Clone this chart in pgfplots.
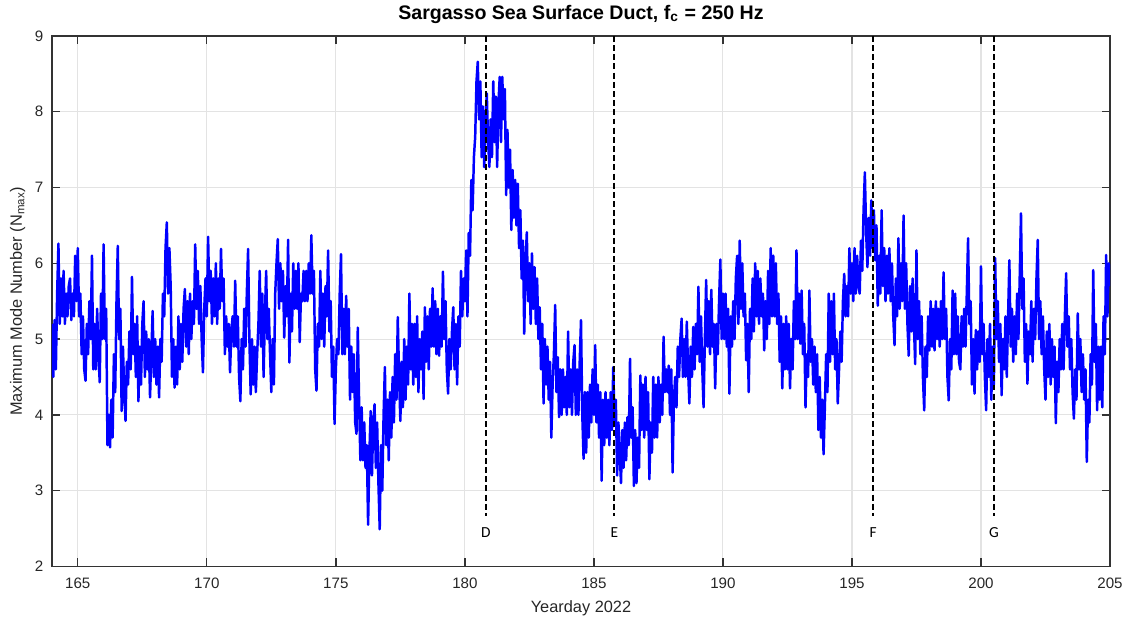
\documentclass[border=0pt]{standalone}
\usepackage{pgfplots}
\usepackage{pgfplotstable}
\pgfplotsset{compat=1.18}
\usepackage{fontspec}
\setmainfont{Liberation Sans}
\newfontfamily\carlito{Carlito}
\pgfplotstableread{
x y
164.00 5.2
164.05 4.5
164.10 5.25
164.15 4.6
164.20 5.6
164.25 6.26
164.30 5.2
164.35 5.8
164.40 5.3
164.45 5.9
164.50 5.2
164.55 5.6
164.60 5.3
164.65 5.7
164.70 5.8
164.75 5.25
164.80 5.6
164.85 5.3
164.90 6.1
164.95 5.5
165.00 6.2
165.05 5.3
165.10 5.6
165.15 4.8
165.20 5.3
165.25 4.6
165.30 4.45
165.35 5.2
165.40 4.8
165.45 5.5
165.50 5.0
165.55 6.1
165.60 4.6
165.65 5.2
165.70 4.6
165.75 5.4
165.80 4.8
165.85 4.43
165.90 5.6
165.95 5.0
166.00 6.25
166.05 5.0
166.10 5.4
166.15 3.6
166.20 4.0
166.25 3.57
166.30 4.2
166.35 3.7
166.40 4.8
166.45 4.3
166.50 5.5
166.55 6.23
166.60 5.0
166.65 5.4
166.70 4.05
166.75 4.9
166.80 4.3
166.85 3.92
166.90 4.7
166.95 4.4
167.00 5.1
167.05 4.6
167.10 5.82
167.15 4.8
167.20 5.2
167.25 4.5
167.30 5.3
167.35 4.18
167.40 4.9
167.45 4.4
167.50 5.2
167.55 5.5
167.60 4.5
167.65 5.1
167.70 4.6
167.75 5.0
167.80 4.23
167.85 4.8
167.90 5.37
167.95 4.5
168.00 5.0
168.05 4.4
168.10 4.9
168.15 4.23
168.20 5.0
168.25 4.7
168.30 5.6
168.35 5.3
168.40 6.2
168.45 6.54
168.50 5.6
168.55 6.2
168.60 5.7
168.65 4.5
168.70 5.0
168.75 4.36
168.80 4.9
168.85 4.4
168.90 5.3
168.95 4.6
169.00 5.2
169.05 4.7
169.10 5.4
169.15 5.66
169.20 4.9
169.25 5.5
169.30 4.8
169.35 5.6
169.40 5.0
169.45 5.5
169.50 5.2
169.55 6.25
169.60 5.4
169.65 5.9
169.70 5.2
169.75 5.7
169.80 5.0
169.85 4.56
169.90 5.4
169.95 5.8
170.00 5.3
170.05 6.35
170.10 5.5
170.15 5.9
170.20 5.2
170.25 5.8
170.30 5.3
170.35 6.0
170.40 5.2
170.45 5.8
170.50 5.4
170.55 6.19
170.60 5.5
170.65 5.8
170.70 4.8
170.75 5.3
170.80 4.9
170.85 5.2
170.90 4.56
170.95 5.1
171.00 5.3
171.05 4.9
171.10 5.77
171.15 4.9
171.20 5.3
171.25 4.5
171.30 4.18
171.35 5.0
171.40 4.6
171.45 5.4
171.50 4.9
171.55 5.6
171.60 6.19
171.65 5.0
171.70 4.27
171.75 5.0
171.80 4.4
171.85 4.9
171.90 4.3
171.95 4.8
172.00 5.2
172.05 5.9
172.10 4.9
172.15 5.6
172.20 4.5
172.25 5.3
172.30 5.9
172.35 5.0
172.40 5.4
172.45 4.8
172.50 4.3
172.55 5.0
172.60 4.4
172.65 5.6
172.70 6.0
172.75 6.32
172.80 5.4
172.85 6.0
172.90 5.5
172.95 5.9
173.00 5.02
173.05 5.7
173.10 5.3
173.15 6.31
173.20 4.69
173.25 5.6
173.30 5.1
173.35 6.0
173.40 5.4
173.45 5.9
173.50 5.4
173.55 6.0
173.60 4.96
173.65 5.6
173.70 5.5
173.75 5.9
173.80 5.5
173.85 5.9
173.90 5.5
173.95 6.0
174.00 5.6
174.05 6.37
174.10 5.6
174.15 5.9
174.20 4.6
174.25 4.32
174.30 5.2
174.35 4.9
174.40 5.9
174.45 5.0
174.50 5.6
174.55 4.9
174.60 5.7
174.65 5.3
174.70 6.17
174.75 5.1
174.80 5.5
174.85 4.5
174.90 4.9
174.95 3.88
175.00 4.6
175.05 5.0
175.10 4.8
175.15 5.6
175.20 6.12
175.25 4.8
175.30 5.4
175.35 4.8
175.40 5.57
175.45 4.9
175.50 5.4
175.55 4.2
175.60 4.9
175.65 4.3
175.70 4.8
175.75 3.9
175.80 3.75
175.85 5.15
175.90 4.2
175.95 3.4
176.00 4.1
176.05 3.4
176.10 3.9
176.15 3.3
176.20 3.6
176.25 2.55
176.30 3.5
176.35 4.05
176.40 3.2
176.45 3.9
176.50 4.14
176.55 3.3
176.60 3.9
176.65 3.1
176.70 2.49
176.75 3.6
176.80 3.0
176.85 4.0
176.90 4.63
176.95 3.6
177.00 4.2
177.05 3.4
177.10 4.3
177.15 3.7
177.20 4.5
177.25 3.9
177.30 4.8
177.35 4.2
177.40 5.29
177.45 4.5
177.50 3.92
177.55 4.7
177.60 4.1
177.65 5.0
177.70 4.2
177.75 4.9
177.80 4.4
177.85 5.6
177.90 4.6
177.95 5.2
178.00 4.4
178.05 5.2
178.10 4.5
178.15 5.3
178.20 4.3
178.25 5.0
178.30 4.6
178.35 5.1
178.40 4.21
178.45 5.42
178.50 4.7
178.55 5.3
178.60 4.6
178.65 5.4
178.70 4.9
178.75 5.67
178.80 4.9
178.85 5.5
178.90 4.8
178.95 5.4
179.00 4.78
179.05 5.3
179.10 4.9
179.15 5.89
179.20 5.0
179.25 5.5
179.30 4.6
179.35 4.28
179.40 5.0
179.45 4.6
179.50 5.1
179.55 5.42
179.60 4.6
179.65 5.2
179.70 4.4
179.75 5.3
179.80 4.9
179.85 5.9
179.90 5.3
179.95 5.8
180.00 5.5
180.05 6.17
180.10 5.3
180.15 6.4
180.20 6.1
180.25 7.1
180.30 6.7
180.35 7.4
180.40 7.67
180.45 8.4
180.50 8.66
180.55 7.9
180.60 8.4
180.65 7.4
180.70 8.07
180.75 7.27
180.80 7.9
180.85 8.24
180.90 7.6
180.95 7.27
181.00 7.9
181.05 7.4
181.10 8.4
181.15 7.6
181.20 8.2
181.25 7.27
181.30 8.1
181.35 8.46
181.40 7.6
181.45 8.46
181.50 7.9
181.55 8.3
181.60 6.9
181.65 7.76
181.70 7.0
181.75 7.5
181.80 6.44
181.85 7.23
181.90 6.6
181.95 7.1
182.00 6.5
182.05 7.05
182.10 6.2
182.15 6.7
182.20 5.8
182.25 6.3
182.30 5.07
182.35 6.0
182.40 6.41
182.45 5.5
182.50 6.0
182.55 5.2
182.60 6.13
182.65 5.4
182.70 5.95
182.75 5.2
182.80 5.8
182.85 5.0
182.90 5.42
182.95 4.6
183.00 5.2
183.05 4.15
183.10 5.0
183.15 4.4
183.20 4.9
183.25 4.2
183.30 4.7
183.35 3.7
183.40 4.4
183.45 4.8
183.50 5.45
183.55 4.3
183.60 4.76
183.65 3.97
183.70 4.6
183.75 4.0
183.80 4.6
183.85 4.1
183.90 4.5
183.95 4.0
184.00 5.1
184.05 4.1
184.10 4.6
184.15 4.0
184.20 4.7
184.25 4.92
184.30 4.0
184.35 4.6
184.40 4.0
184.45 4.7
184.50 5.25
184.55 4.0
184.60 3.42
184.65 4.3
184.70 3.5
184.75 4.3
184.80 3.7
184.85 4.4
184.90 3.9
184.95 4.6
185.00 4.0
185.05 4.92
185.10 3.9
185.15 4.4
185.20 3.7
185.25 4.3
185.30 3.13
185.35 4.2
185.40 3.6
185.45 4.3
185.50 3.7
185.55 4.2
185.60 3.6
185.65 4.3
185.70 3.8
185.75 4.63
185.80 3.9
185.85 4.2
185.90 3.2
185.95 3.9
186.00 3.5
186.05 3.1
186.10 3.8
186.15 3.3
186.20 3.9
186.25 3.4
186.30 3.97
186.35 3.6
186.40 4.74
186.45 3.7
186.50 4.1
186.55 3.06
186.60 3.8
186.65 3.1
186.70 3.7
186.75 3.3
186.80 4.52
186.85 3.8
186.90 4.4
186.95 3.7
187.00 4.5
187.05 3.8
187.10 4.3
187.15 3.15
187.20 3.9
187.25 3.5
187.30 4.5
187.35 3.7
187.40 4.4
187.45 3.7
187.50 4.5
187.55 3.9
187.60 4.4
187.65 4.0
187.70 5.03
187.75 4.3
187.80 4.6
187.85 4.3
187.90 4.65
187.95 4.0
188.00 4.6
188.05 3.24
188.10 4.2
188.15 4.5
188.20 4.1
188.25 4.9
188.30 4.5
188.35 5.0
188.40 5.27
188.45 4.5
188.50 5.0
188.55 4.5
188.60 5.23
188.65 4.6
188.70 4.15
188.75 4.9
188.80 4.5
188.85 5.16
188.90 4.6
188.95 5.2
189.00 4.8
189.05 5.69
189.10 4.7
189.15 5.3
189.20 4.6
189.25 4.1
189.30 5.0
189.35 5.78
189.40 4.9
189.45 5.5
189.50 4.8
189.55 5.65
189.60 4.9
189.65 5.2
189.70 4.35
189.75 5.2
189.80 4.8
189.85 5.5
189.90 6.05
189.95 5.0
190.00 5.6
190.05 5.0
190.10 5.6
190.15 4.9
190.20 5.4
190.25 4.28
190.30 5.3
190.35 4.9
190.40 5.5
190.45 5.0
190.50 5.8
190.55 6.1
190.60 5.2
190.65 6.3
190.70 5.4
190.75 6.0
190.80 5.3
190.85 5.6
190.90 4.72
190.95 5.2
191.00 4.3
191.05 5.4
191.10 5.0
191.15 5.8
191.20 5.1
191.25 6.0
191.30 5.3
191.35 5.9
191.40 5.2
191.45 5.8
191.50 5.3
191.55 5.6
191.60 4.85
191.65 5.5
191.70 5.0
191.75 5.9
191.80 5.2
191.85 6.2
191.90 5.3
191.95 6.1
192.00 5.3
192.05 6.0
192.10 5.2
192.15 5.6
192.20 4.7
192.25 5.3
192.30 4.35
192.35 5.2
192.40 4.6
192.45 5.3
192.50 4.6
192.55 5.2
192.60 4.35
192.65 5.0
192.70 4.6
192.75 5.5
192.80 5.0
192.85 6.17
192.90 5.0
192.95 5.6
193.00 4.94
193.05 5.64
193.10 4.8
193.15 5.2
193.20 4.1
193.25 4.8
193.30 4.5
193.35 5.64
193.40 4.7
193.45 5.0
193.50 4.4
193.55 4.9
193.60 4.3
193.65 4.8
193.70 3.8
193.75 4.5
193.80 3.7
193.85 4.2
193.90 3.48
193.95 4.1
194.00 4.8
194.05 4.3
194.10 5.6
194.15 4.7
194.20 5.5
194.25 4.8
194.30 5.6
194.35 4.6
194.40 5.0
194.45 4.15
194.50 4.6
194.55 5.1
194.60 4.7
194.65 5.5
194.70 5.86
194.75 5.3
194.80 5.7
194.85 5.3
194.90 6.2
194.95 5.6
195.00 6.0
195.05 5.5
195.10 6.2
195.15 5.6
195.20 6.1
195.25 5.7
195.30 5.6
195.35 6.3
195.40 5.9
195.45 6.7
195.50 7.2
195.55 6.4
195.60 5.95
195.65 6.6
195.70 6.1
195.75 6.83
195.80 6.2
195.85 6.7
195.90 6.04
195.95 6.5
196.00 5.44
196.05 6.1
196.10 5.6
196.15 6.7
196.20 5.7
196.25 6.2
196.30 5.5
196.35 6.1
196.40 5.6
196.45 6.2
196.50 5.5
196.55 6.0
196.60 5.3
196.65 4.92
196.70 5.8
196.75 5.3
196.80 6.33
196.85 5.4
196.90 6.0
196.95 5.5
197.00 6.63
197.05 5.4
197.10 6.0
197.15 5.2
197.20 4.78
197.25 5.7
197.30 5.1
197.35 5.8
197.40 5.2
197.45 4.67
197.50 6.17
197.55 5.0
197.60 5.5
197.65 4.8
197.70 5.3
197.75 4.5
197.80 4.06
197.85 4.9
197.90 4.5
197.95 5.3
198.00 4.85
198.05 5.5
198.10 4.9
198.15 5.4
198.20 4.85
198.25 5.5
198.30 5.0
198.35 5.4
198.40 4.9
198.45 5.5
198.50 5.0
198.55 5.88
198.60 5.0
198.65 5.4
198.70 4.5
198.75 4.19
198.80 5.0
198.85 4.6
198.90 5.64
198.95 4.8
199.00 5.6
199.05 4.8
199.10 5.3
199.15 4.7
199.20 4.6
199.25 5.3
199.30 4.9
199.35 5.4
199.40 4.9
199.45 5.6
199.50 6.33
199.55 5.2
199.60 5.5
199.65 4.4
199.70 5.0
199.75 4.28
199.80 5.12
199.85 4.6
199.90 5.1
199.95 4.7
200.00 5.96
200.05 4.8
200.10 5.2
200.15 4.5
200.20 4.06
200.25 5.0
200.30 4.5
200.35 5.2
200.40 4.2
200.45 4.9
200.50 4.4
200.55 6.07
200.60 5.0
200.65 5.5
200.70 4.7
200.75 5.2
200.80 4.26
200.85 5.0
200.90 4.6
200.95 5.3
201.00 4.5
201.05 5.3
201.10 6.04
201.15 4.9
201.20 5.4
201.25 4.7
201.30 5.3
201.35 4.8
201.40 5.6
201.45 5.0
201.50 5.8
201.55 6.66
201.60 5.4
201.65 5.8
201.70 4.7
201.75 5.2
201.80 4.41
201.85 5.1
201.90 4.8
201.95 5.5
202.00 4.7
202.05 5.4
202.10 5.0
202.15 5.8
202.20 6.31
202.25 5.0
202.30 5.5
202.35 4.8
202.40 5.3
202.45 4.6
202.50 4.2
202.55 5.1
202.60 4.5
202.65 5.2
202.70 4.4
202.75 5.0
202.80 4.5
202.85 4.9
202.90 3.89
202.95 4.7
203.00 4.3
203.05 5.0
203.10 4.6
203.15 5.2
203.20 4.6
203.25 5.3
203.30 5.87
203.35 4.9
203.40 5.3
203.45 4.6
203.50 5.0
203.55 4.3
203.60 3.95
203.65 4.6
203.70 4.2
203.75 5.34
203.80 4.6
203.85 5.0
203.90 4.3
203.95 4.8
204.00 4.2
204.05 4.6
204.10 3.38
204.15 4.2
204.20 3.9
204.25 4.8
204.30 4.4
204.35 5.91
204.40 4.7
204.45 5.2
204.50 4.06
204.55 4.9
204.60 4.2
204.65 4.9
204.70 4.1
204.75 5.3
204.80 4.8
204.85 6.11
204.90 5.3
204.95 6.0
205.00 5.7
}\nmaxdata
\begin{document}
\begin{tikzpicture}
\begin{axis}[
  scale only axis, width=15cm, height=7.52cm,
  at={(0,0)}, anchor=south west,
  xmin=164, xmax=205, ymin=2, ymax=9,
  xtick={165,170,...,205}, ytick={2,3,...,9},
  grid=major, major grid style={color=black!11, line width=0.45pt},
  axis line style={color=black!80, line width=0.55pt},
  tick style={color=black!80, line width=0.55pt},
  tick align=inside, major tick length=3.2pt,
  /pgf/number format/assume math mode=true,
  /pgf/number format/set thousands separator={},
  tick label style={font=\fontsize{6.1}{7}\selectfont, text=black!85},
  xticklabel style={yshift=-1pt},
  label style={font=\fontsize{6.6}{7.5}\selectfont, text=black!85},
  xlabel={Yearday 2022},
  ylabel={Maximum Mode Number (N\textsubscript{max})},
  xlabel style={yshift=2pt},
  ylabel style={yshift=-3pt},
  title={\textbf{Sargasso Sea Surface Duct, f\textsubscript{c} = 250 Hz}},
  title style={font=\fontsize{7.9}{9}\selectfont, yshift=-4.5pt},
  clip=true,
]
\addplot[color={rgb,255:red,0;green,0;blue,255}, line width=1pt, line join=round] table[x=x, y=y] {\nmaxdata};
\addplot[black, line width=0.8pt, dash pattern=on 2.4pt off 1.3pt] coordinates {(180.81,9) (180.81,2.67)};
\addplot[black, line width=0.8pt, dash pattern=on 2.4pt off 1.3pt] coordinates {(185.79,9) (185.79,2.67)};
\addplot[black, line width=0.8pt, dash pattern=on 2.4pt off 1.3pt] coordinates {(195.82,9) (195.82,2.67)};
\addplot[black, line width=0.8pt, dash pattern=on 2.4pt off 1.3pt] coordinates {(200.5,9) (200.5,2.67)};
\node[font=\carlito\fontsize{6.2}{7}\selectfont] at (axis cs:180.81,2.45) {D};
\node[font=\carlito\fontsize{6.2}{7}\selectfont] at (axis cs:185.79,2.45) {E};
\node[font=\carlito\fontsize{6.2}{7}\selectfont] at (axis cs:195.82,2.45) {F};
\node[font=\carlito\fontsize{6.2}{7}\selectfont] at (axis cs:200.5,2.45) {G};
\end{axis}
\pgfresetboundingbox
\path[use as bounding box] (-0.737cm,-0.723cm) rectangle (15.255cm,8.03cm);
\end{tikzpicture}
\end{document}
